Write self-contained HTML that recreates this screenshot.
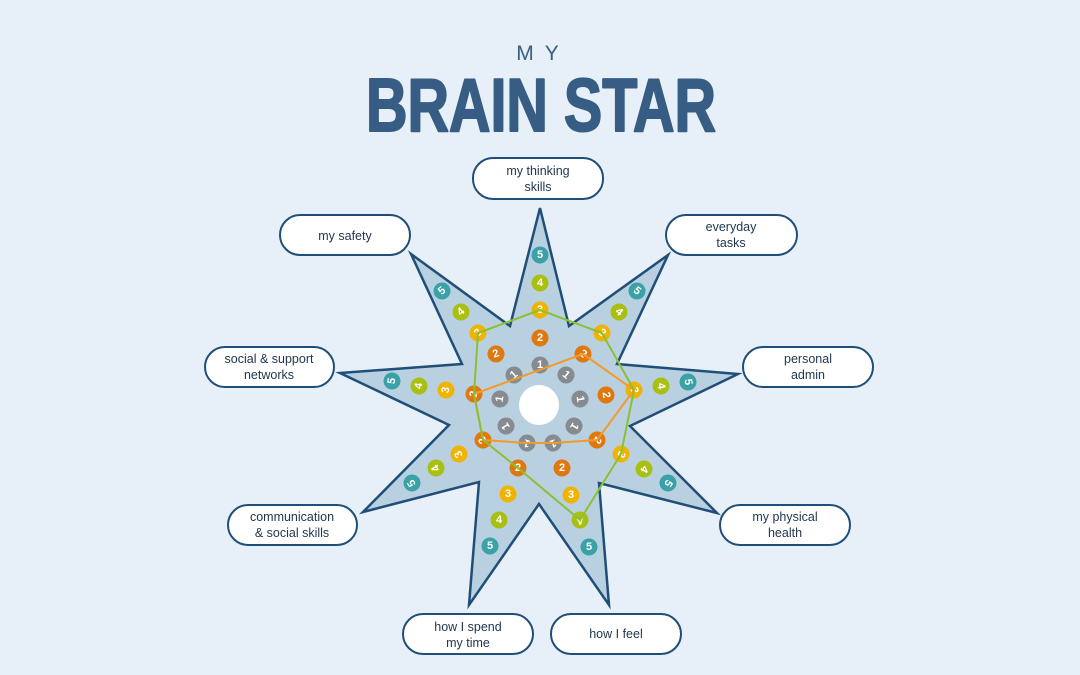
<!DOCTYPE html>
<html><head><meta charset="utf-8"><style>
html,body{margin:0;padding:0;background:#e7f0f8;}
svg{display:block;}
.lb{font-family:"Liberation Sans",sans-serif;font-size:12.5px;fill:#1e3550;text-anchor:middle;}
.n{font-family:"Liberation Sans",sans-serif;font-size:11px;font-weight:bold;fill:#fff;text-anchor:middle;dominant-baseline:central;}
circle{}
</style></head><body>
<svg width="1080" height="675" viewBox="0 0 1080 675" xmlns="http://www.w3.org/2000/svg">
<rect width="1080" height="675" fill="#e7f0f8"/>
<text x="543" y="60" font-family="Liberation Sans,sans-serif" font-size="21" fill="#3a5f85" text-anchor="middle" letter-spacing="11">MY</text>
<text x="366" y="131" textLength="350" lengthAdjust="spacingAndGlyphs" font-family="Liberation Sans,sans-serif" font-weight="bold" font-size="75" fill="#375d84" stroke="#375d84" stroke-width="2" stroke-linejoin="round">BRAIN STAR</text>

<polygon points="540,208 569,326 668,255 617,364 738,374 630,426 717,513 599,483 609,605 539,504 469,605 479,482 363,512 449,425 340,373 462,364 411,254 510,326" fill="#b9d0e1" stroke="#1f4e79" stroke-width="2.5" stroke-linejoin="miter"/>
<circle cx="539" cy="405" r="20" fill="#fff"/>

<g>
<rect x="473" y="158" width="130" height="41" rx="20" fill="#fff" stroke="#1f4e79" stroke-width="2"/>
<text class="lb" x="538" y="175">my thinking</text><text class="lb" x="538" y="191">skills</text>
<rect x="280" y="215" width="130" height="40" rx="20" fill="#fff" stroke="#1f4e79" stroke-width="2"/>
<text class="lb" x="345" y="240">my safety</text>
<rect x="666" y="215" width="131" height="40" rx="20" fill="#fff" stroke="#1f4e79" stroke-width="2"/>
<text class="lb" x="731" y="231">everyday</text><text class="lb" x="731" y="247">tasks</text>
<rect x="205" y="347" width="129" height="40" rx="20" fill="#fff" stroke="#1f4e79" stroke-width="2"/>
<text class="lb" x="269" y="363">social &amp; support</text><text class="lb" x="269" y="379">networks</text>
<rect x="743" y="347" width="130" height="40" rx="20" fill="#fff" stroke="#1f4e79" stroke-width="2"/>
<text class="lb" x="808" y="363">personal</text><text class="lb" x="808" y="379">admin</text>
<rect x="228" y="505" width="129" height="40" rx="20" fill="#fff" stroke="#1f4e79" stroke-width="2"/>
<text class="lb" x="292" y="521">communication</text><text class="lb" x="292" y="537">&amp; social skills</text>
<rect x="720" y="505" width="130" height="40" rx="20" fill="#fff" stroke="#1f4e79" stroke-width="2"/>
<text class="lb" x="785" y="521">my physical</text><text class="lb" x="785" y="537">health</text>
<rect x="403" y="614" width="130" height="40" rx="20" fill="#fff" stroke="#1f4e79" stroke-width="2"/>
<text class="lb" x="468" y="631">how I spend</text><text class="lb" x="468" y="647">my time</text>
<rect x="551" y="614" width="130" height="40" rx="20" fill="#fff" stroke="#1f4e79" stroke-width="2"/>
<text class="lb" x="616" y="638">how I feel</text>
</g>

<g>
<circle cx="540" cy="365" r="8.5" fill="#858b8e"/><text class="n" x="540" y="365">1</text>
<circle cx="540" cy="338" r="8.5" fill="#e07810"/><text class="n" x="540" y="338">2</text>
<circle cx="540" cy="310" r="8.5" fill="#f0b400"/><text class="n" x="540" y="310">3</text>
<circle cx="540" cy="283" r="8.5" fill="#a9c012"/><text class="n" x="540" y="283">4</text>
<circle cx="540" cy="255" r="8.5" fill="#3aa2a7"/><text class="n" x="540" y="255">5</text>
<circle cx="566" cy="375" r="8.5" fill="#858b8e"/><text class="n" x="566" y="375" transform="rotate(40 566 375)">1</text>
<circle cx="583" cy="354" r="8.5" fill="#e07810"/><text class="n" x="583" y="354" transform="rotate(40 583 354)">2</text>
<circle cx="602" cy="333" r="8.5" fill="#f0b400"/><text class="n" x="602" y="333" transform="rotate(40 602 333)">3</text>
<circle cx="619" cy="312" r="8.5" fill="#a9c012"/><text class="n" x="619" y="312" transform="rotate(40 619 312)">4</text>
<circle cx="637" cy="291" r="8.5" fill="#3aa2a7"/><text class="n" x="637" y="291" transform="rotate(40 637 291)">5</text>
<circle cx="580" cy="399" r="8.5" fill="#858b8e"/><text class="n" x="580" y="399" transform="rotate(81 580 399)">1</text>
<circle cx="606" cy="395" r="8.5" fill="#e07810"/><text class="n" x="606" y="395" transform="rotate(81 606 395)">2</text>
<circle cx="634" cy="390" r="8.5" fill="#f0b400"/><text class="n" x="634" y="390" transform="rotate(81 634 390)">3</text>
<circle cx="661" cy="386" r="8.5" fill="#a9c012"/><text class="n" x="661" y="386" transform="rotate(81 661 386)">4</text>
<circle cx="688" cy="382" r="8.5" fill="#3aa2a7"/><text class="n" x="688" y="382" transform="rotate(81 688 382)">5</text>
<circle cx="574" cy="426" r="8.5" fill="#858b8e"/><text class="n" x="574" y="426" transform="rotate(121 574 426)">1</text>
<circle cx="597" cy="440" r="8.5" fill="#e07810"/><text class="n" x="597" y="440" transform="rotate(121 597 440)">2</text>
<circle cx="621" cy="454" r="8.5" fill="#f0b400"/><text class="n" x="621" y="454" transform="rotate(121 621 454)">3</text>
<circle cx="644" cy="469" r="8.5" fill="#a9c012"/><text class="n" x="644" y="469" transform="rotate(121 644 469)">4</text>
<circle cx="668" cy="483" r="8.5" fill="#3aa2a7"/><text class="n" x="668" y="483" transform="rotate(121 668 483)">5</text>
<circle cx="553" cy="443" r="8.5" fill="#858b8e"/><text class="n" x="553" y="443" transform="rotate(161 553 443)">1</text>
<circle cx="562" cy="468" r="8.5" fill="#e07810"/><text class="n" x="562" y="468">2</text>
<circle cx="571" cy="495" r="8.5" fill="#f0b400"/><text class="n" x="571" y="495">3</text>
<circle cx="580" cy="520" r="8.5" fill="#a9c012"/><text class="n" x="580" y="520" transform="rotate(161 580 520)">4</text>
<circle cx="589" cy="547" r="8.5" fill="#3aa2a7"/><text class="n" x="589" y="547">5</text>
<circle cx="527" cy="443" r="8.5" fill="#858b8e"/><text class="n" x="527" y="443" transform="rotate(199 527 443)">1</text>
<circle cx="518" cy="468" r="8.5" fill="#e07810"/><text class="n" x="518" y="468">2</text>
<circle cx="508" cy="494" r="8.5" fill="#f0b400"/><text class="n" x="508" y="494">3</text>
<circle cx="499" cy="520" r="8.5" fill="#a9c012"/><text class="n" x="499" y="520">4</text>
<circle cx="490" cy="546" r="8.5" fill="#3aa2a7"/><text class="n" x="490" y="546">5</text>
<circle cx="506" cy="426" r="8.5" fill="#858b8e"/><text class="n" x="506" y="426" transform="rotate(239 506 426)">1</text>
<circle cx="483" cy="440" r="8.5" fill="#e07810"/><text class="n" x="483" y="440" transform="rotate(239 483 440)">2</text>
<circle cx="459" cy="454" r="8.5" fill="#f0b400"/><text class="n" x="459" y="454" transform="rotate(239 459 454)">3</text>
<circle cx="436" cy="468" r="8.5" fill="#a9c012"/><text class="n" x="436" y="468" transform="rotate(239 436 468)">4</text>
<circle cx="412" cy="483" r="8.5" fill="#3aa2a7"/><text class="n" x="412" y="483" transform="rotate(239 412 483)">5</text>
<circle cx="500" cy="399" r="8.5" fill="#858b8e"/><text class="n" x="500" y="399" transform="rotate(279 500 399)">1</text>
<circle cx="474" cy="394" r="8.5" fill="#e07810"/><text class="n" x="474" y="394" transform="rotate(279 474 394)">2</text>
<circle cx="446" cy="390" r="8.5" fill="#f0b400"/><text class="n" x="446" y="390" transform="rotate(279 446 390)">3</text>
<circle cx="419" cy="386" r="8.5" fill="#a9c012"/><text class="n" x="419" y="386" transform="rotate(279 419 386)">4</text>
<circle cx="392" cy="381" r="8.5" fill="#3aa2a7"/><text class="n" x="392" y="381" transform="rotate(279 392 381)">5</text>
<circle cx="514" cy="375" r="8.5" fill="#858b8e"/><text class="n" x="514" y="375" transform="rotate(320 514 375)">1</text>
<circle cx="496" cy="354" r="8.5" fill="#e07810"/><text class="n" x="496" y="354" transform="rotate(-20 496 354)">2</text>
<circle cx="478" cy="333" r="8.5" fill="#f0b400"/><text class="n" x="478" y="333" transform="rotate(320 478 333)">3</text>
<circle cx="461" cy="312" r="8.5" fill="#a9c012"/><text class="n" x="461" y="312" transform="rotate(320 461 312)">4</text>
<circle cx="442" cy="291" r="8.5" fill="#3aa2a7"/><text class="n" x="442" y="291" transform="rotate(320 442 291)">5</text>
</g>

<polygon points="583,354 634,390 597,440 553,443 527,443 483,440 474,394" fill="none" stroke="#f39a2a" stroke-width="2"/>
<polygon points="540,310 602,333 634,390 621,454 580,520 518,468 483,440 474,394 478,333" fill="none" stroke="#8cc034" stroke-width="2"/>
</svg>
</body></html>
